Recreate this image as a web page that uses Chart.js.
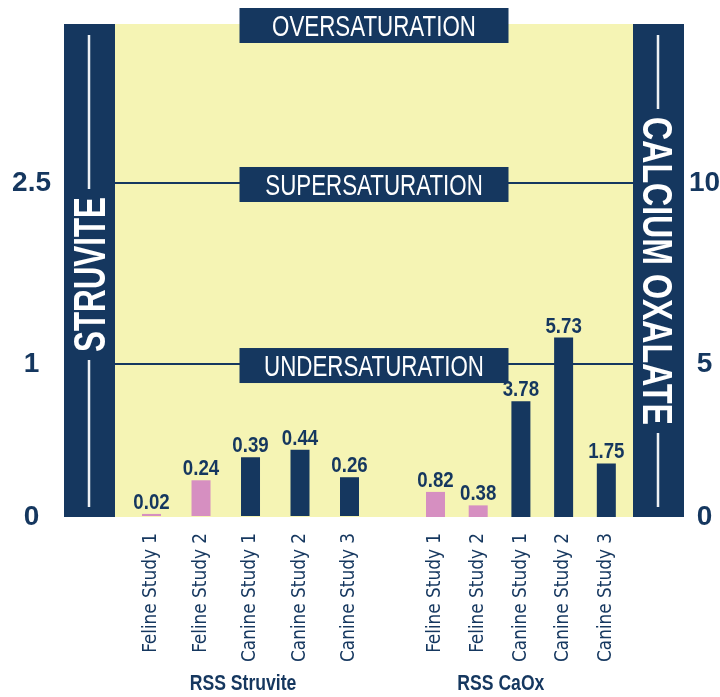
<!DOCTYPE html>
<html lang="en">
<head>
<meta charset="UTF-8">
<title>RSS Struvite and RSS CaOx</title>
<script src="https://cdn.jsdelivr.net/npm/chart.js@4.4.0/dist/chart.umd.min.js"></script>
<style>
  html, body { margin: 0; padding: 0; background: #fff; }
  #wrap { width: 720px; height: 697px; position: relative; }
</style>
</head>
<body>
<div id="wrap"><canvas id="myChart"></canvas></div>
<script>
// data
var categories = ['Feline Study 1', 'Feline Study 2', 'Canine Study 1', 'Canine Study 2', 'Canine Study 3'];
var struviteValues = [0.02, 0.24, 0.39, 0.44, 0.26];
var caoxValues = [0.82, 0.38, 3.78, 5.73, 1.75];
var groupNames = ['RSS Struvite', 'RSS CaOx'];
var struviteTicks = [0, 1, 2.5];
var caoxTicks = [0, 5, 10];
var zoneNames = ['OVERSATURATION', 'SUPERSATURATION', 'UNDERSATURATION'];
var axisTitles = ['STRUVITE', 'CALCIUM OXALATE'];

var NAVY = '#15375f', PINK = '#d68fc1', YELLOW = '#f5f4b4';
var SANS = '"Liberation Sans", Arial, sans-serif';
var GAP = 6; // index offset of the CaOx group (one empty slot)

// the chart is not linear: each zone has its own step
var BREAKS = {
    x:  [[-0.74, 0], [0, 0.0705], [4, 0.4527], [6, 0.6187], [10, 0.9485], [10.63, 1]],
    yL: [[0, 0], [1, 0.3103], [2.5, 0.6775], [3.82, 1]],
    yR: [[0, 0], [5, 0.3103], [10, 0.6775], [15.28, 1]]
};
function interp(b, v, from, to) {
    for (var i = 1; i < b.length; i++) {
        if (v <= b[i][from] || i === b.length - 1) {
            var p = b[i - 1], q = b[i];
            return p[to] + (v - p[from]) / (q[from] - p[from]) * (q[to] - p[to]);
        }
    }
}
class PiecewiseScale extends Chart.LinearScale {
    getPixelForValue(value) {
        if (value === null || value === undefined || isNaN(value)) return NaN;
        return this.getPixelForDecimal(interp(BREAKS[this.id], value, 0, 1));
    }
    getValueForPixel(pixel) {
        return interp(BREAKS[this.id], this.getDecimalForPixel(pixel), 1, 0);
    }
}
PiecewiseScale.id = 'piecewise';
PiecewiseScale.defaults = Chart.LinearScale.defaults;
Chart.register(PiecewiseScale);

// pick a narrow face for the study names if one is installed
function hasFont(name) {
    var c = document.createElement('canvas').getContext('2d');
    var s = 'abcdefghijklmnopqrstuvwxyz0123456789';
    c.font = '40px monospace';
    var a = c.measureText(s).width;
    c.font = '40px "' + name + '", monospace';
    return c.measureText(s).width !== a;
}
var NARROW = ['Liberation Sans Narrow', 'DejaVu Sans Condensed', 'Liberation Sans'].find(hasFont) || 'sans-serif';
var probe = document.createElement('canvas').getContext('2d');
probe.font = '20px "' + NARROW + '"';
var tickSize = Math.round(20 * 129 / probe.measureText('Canine Study 1').width * 10) / 10;

function colorFor(name) {
    return name.indexOf('Feline') === 0 ? PINK : NAVY;
}
var xTicks = categories.map(function (c, i) { return i; })
    .concat(categories.map(function (c, i) { return i + GAP; }));

function drawText(c, text, x, y, font, color, sx, rot) {
    c.save();
    c.translate(x, y);
    c.rotate(rot || 0);
    c.scale(sx, 1);
    c.font = font;
    c.fillStyle = color;
    c.textAlign = 'center';
    c.textBaseline = 'alphabetic';
    c.fillText(text, 0, 0);
    c.restore();
}

function sideTitle(c, text, cx, cy, len, size, rot, top, bottom) {
    c.save();
    c.strokeStyle = '#eef1f4';
    c.lineWidth = 2.5;
    c.beginPath();
    c.moveTo(cx, top + 11);
    c.lineTo(cx, cy - len / 2 - 8);
    c.moveTo(cx, cy + len / 2 + 8);
    c.lineTo(cx, bottom - 10);
    c.stroke();
    c.translate(cx, cy);
    c.rotate(rot);
    c.font = 'bold ' + size + 'px ' + SANS;
    c.scale(len / c.measureText(text).width, 1);
    c.fillStyle = '#fff';
    c.textAlign = 'center';
    c.textBaseline = 'alphabetic';
    c.fillText(text, 0, size * 0.36);
    c.restore();
}

// y axes: fixed width, and no extra top/bottom margin from the tick padding
function fitY(width) {
    return function (s) {
        s.width = width;
        s.paddingTop = 0;
        s.paddingBottom = 0;
    };
}

var framePlugin = {
    id: 'frame',
    beforeDraw: function (chart) {
        var a = chart.chartArea, c = chart.ctx;
        c.save();
        c.fillStyle = YELLOW;
        c.fillRect(a.left, a.top, a.right - a.left, a.bottom - a.top);
        c.fillStyle = NAVY;
        c.fillRect(a.left - 51, a.top, 51, a.bottom - a.top);
        c.fillRect(a.right, a.top, 51, a.bottom - a.top);
        c.restore();
        sideTitle(c, axisTitles[0], a.left - 26, a.top + 250.5, 155, 44, -Math.PI / 2, a.top, a.bottom);
        sideTitle(c, axisTitles[1], a.right + 25, a.top + 247, 308, 42, Math.PI / 2, a.top, a.bottom);
    },
    afterDatasetsDraw: function (chart) {
        var c = chart.ctx, a = chart.chartArea;
        // value labels
        chart.data.datasets.forEach(function (ds, di) {
            chart.getDatasetMeta(di).data.forEach(function (bar, i) {
                drawText(c, ds.data[i].y.toFixed(2), bar.x, bar.y - 5, 'bold 22px ' + SANS, NAVY, 0.85);
            });
        });
        // zone banners
        var yL = chart.scales.yL;
        var levels = [yL.max, struviteTicks[2], struviteTicks[1]];
        var cx = (a.left + a.right) / 2;
        zoneNames.forEach(function (name, i) {
            var cy = yL.getPixelForValue(levels[i]) + 1.5;
            c.save();
            c.fillStyle = NAVY;
            c.fillRect(cx - 134.5, cy - 17.5, 269, 35);
            c.restore();
            drawText(c, name, cx, cy + 10.5, '29px ' + SANS, '#fff', 0.77);
        });
    },
    afterDraw: function (chart) {
        var c = chart.ctx, x = chart.scales.x;
        var centers = [1.85, 7.53];
        groupNames.forEach(function (g, i) {
            drawText(c, g, x.getPixelForValue(centers[i]), 690, 'bold 22px ' + SANS, NAVY, 0.8);
        });
    }
};

var ctx = document.getElementById('myChart').getContext('2d');
var chart = new Chart(ctx, {
    type: 'bar',
    data: {
        datasets: [{
            label: groupNames[0],
            yAxisID: 'yL',
            data: categories.map(function (c, i) { return { x: i, y: struviteValues[i] }; }),
            backgroundColor: categories.map(colorFor)
        }, {
            label: groupNames[1],
            yAxisID: 'yR',
            data: categories.map(function (c, i) { return { x: i + GAP, y: caoxValues[i] }; }),
            backgroundColor: categories.map(colorFor)
        }]
    },
    options: {
        responsive: true,
        maintainAspectRatio: false,
        animation: false,
        layout: { padding: { top: 24, left: 0, right: 0, bottom: 0 } },
        datasets: { bar: { grouped: false, maxBarThickness: 19 } },
        plugins: { legend: { display: false }, tooltip: { enabled: false } },
        scales: {
            x: {
                type: 'piecewise',
                position: 'bottom',
                min: -0.74,
                max: 10.63,
                grid: { display: false },
                border: { display: false },
                afterBuildTicks: function (s) { s.ticks = xTicks.map(function (v) { return { value: v }; }); },
                afterFit: function (s) { s.height = 180; s.paddingLeft = 0; s.paddingRight = 0; },
                ticks: {
                    autoSkip: false,
                    minRotation: 90,
                    maxRotation: 90,
                    padding: 8,
                    color: NAVY,
                    font: { family: '"' + NARROW + '"', size: tickSize },
                    callback: function (v) { return categories[v % GAP]; }
                }
            },
            yL: {
                type: 'piecewise',
                position: 'left',
                min: 0,
                max: 3.82,
                afterBuildTicks: function (s) { s.ticks = struviteTicks.map(function (v) { return { value: v }; }); },
                afterFit: fitY(115),
                grid: {
                    drawTicks: false,
                    lineWidth: 2,
                    color: function (c) { return c.tick && c.tick.value > 0 ? NAVY : 'rgba(0,0,0,0)'; }
                },
                border: { display: false },
                ticks: {
                    crossAlign: 'center',
                    padding: 64,
                    color: NAVY,
                    font: { family: SANS, size: 28, weight: 'bold' },
                    callback: function (v) { return String(v); }
                }
            },
            yR: {
                type: 'piecewise',
                position: 'right',
                min: 0,
                max: 15.28,
                afterBuildTicks: function (s) { s.ticks = caoxTicks.map(function (v) { return { value: v }; }); },
                afterFit: fitY(87),
                grid: { display: false, drawTicks: false },
                border: { display: false },
                ticks: {
                    crossAlign: 'center',
                    padding: 56,
                    color: NAVY,
                    font: { family: SANS, size: 28, weight: 'bold' },
                    callback: function (v) { return String(v); }
                }
            }
        }
    },
    plugins: [framePlugin]
});
</script>
</body>
</html>
